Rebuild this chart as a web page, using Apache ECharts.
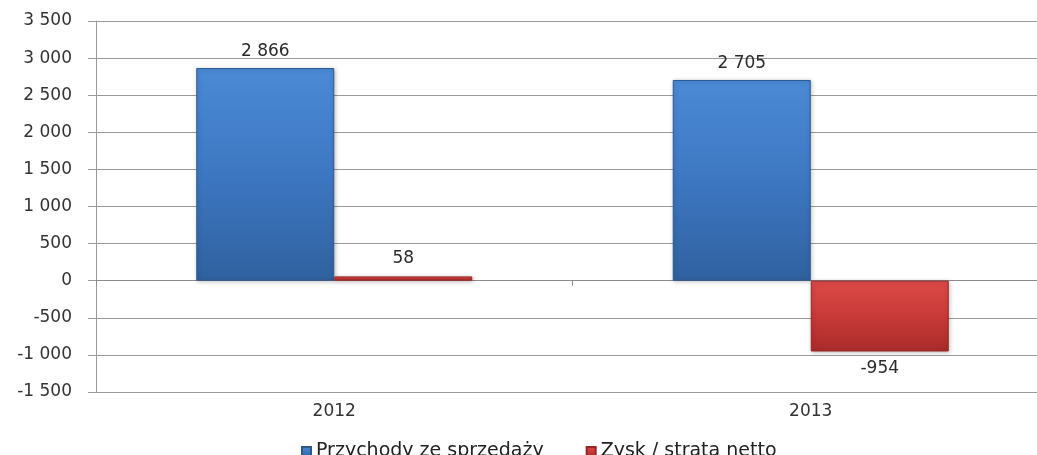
<!DOCTYPE html>
<html>
<head>
<meta charset="utf-8">
<script src="https://cdn.jsdelivr.net/npm/echarts@6/dist/echarts.min.js"></script>
<style>
  html, body { margin: 0; padding: 0; background: #fff; }
  #chart { width: 1037px; height: 455px; }
</style>
</head>
<body>
<div id="chart"></div>
<script>
// Years on the category axis
const years = ['2012', '2013'];
// Series values (mln zł)
const revenue = [2866, 2705];
const netResult = [58, -954];
// Series names shown in the legend
const seriesNames = ['Przychody ze sprzedaży', 'Zysk / strata netto'];
// Value axis range
const yMin = -1500, yMax = 3500, yStep = 500;

const FONT = 'DejaVu Sans';

// Thousands separated by a space, e.g. 2 866, -1 000
function fmt(v) {
  const s = Math.abs(Math.round(v)).toString().replace(/\B(?=(\d{3})+(?!\d))/g, ' ');
  return (v < 0 ? '-' : '') + s;
}

function grad(top, mid, bottom) {
  return new echarts.graphic.LinearGradient(0, 0, 0, 1, [
    { offset: 0, color: top },
    { offset: 0.5, color: mid },
    { offset: 1, color: bottom }
  ]);
}

const chart = echarts.init(document.getElementById('chart'), null, { renderer: 'canvas' });

chart.setOption({
  animation: false,
  backgroundColor: '#ffffff',
  grid: {
    left: 96,
    right: -12,
    top: 21,
    bottom: 63,
    containLabel: false,
    outerBoundsMode: 'none'
  },
  legend: {
    data: seriesNames,
    left: 296,
    top: 437,
    icon: 'rect',
    itemWidth: 9,
    itemHeight: 9,
    itemGap: 42,
    textStyle: { fontFamily: FONT, fontSize: 19, color: '#222' }
  },
  xAxis: [
    {
      type: 'category',
      data: years,
      position: 'bottom',
      axisLine: { onZero: false, lineStyle: { color: '#9a9a9a' } },
      axisTick: { show: false },
      axisLabel: { margin: 11, fontFamily: FONT, fontSize: 17, color: '#333' },
      splitLine: { show: false }
    },
    {
      type: 'category',
      data: years,
      position: 'top',
      axisLine: { onZero: true, lineStyle: { color: '#8c8c8c' } },
      axisTick: { show: true, inside: true, length: 5, lineStyle: { color: '#8c8c8c' } },
      axisLabel: { show: false },
      splitLine: { show: false }
    }
  ],
  yAxis: {
    type: 'value',
    min: yMin,
    max: yMax,
    interval: yStep,
    axisLine: { show: true, lineStyle: { color: '#9a9a9a' } },
    axisTick: { show: true, length: 8, lineStyle: { color: '#9a9a9a' } },
    axisLabel: { margin: 24, fontFamily: FONT, fontSize: 17, color: '#333', formatter: fmt },
    splitLine: { show: true, lineStyle: { color: '#9a9a9a', width: 1 } }
  },
  series: [
    {
      name: seriesNames[0],
      type: 'bar',
      xAxisIndex: 0,
      data: revenue,
      barWidth: 138,
      barGap: '0%',
      itemStyle: {
        color: grad('#4b8ad6', '#3d77c2', '#2f619f'),
        borderColor: '#2c5990',
        borderWidth: 1,
        shadowColor: 'rgba(0,0,0,0.25)',
        shadowBlur: 4,
        shadowOffsetX: 1,
        shadowOffsetY: 1
      },
      label: {
        show: true,
        position: 'top',
        distance: 8,
        fontFamily: FONT,
        fontSize: 17,
        color: '#2a2a2a',
        formatter: p => fmt(p.value)
      }
    },
    {
      name: seriesNames[1],
      type: 'bar',
      xAxisIndex: 0,
      // Negative bars take their label below the bar
      data: netResult.map(v => ({
        value: v,
        label: { position: v < 0 ? 'bottom' : 'top' }
      })),
      barWidth: 138,
      barGap: '0%',
      itemStyle: {
        color: grad('#dc4a47', '#c83a38', '#a92b2a'),
        borderColor: '#9a2624',
        borderWidth: 1,
        shadowColor: 'rgba(0,0,0,0.25)',
        shadowBlur: 4,
        shadowOffsetX: 1,
        shadowOffsetY: 1
      },
      label: {
        show: true,
        distance: 9,
        fontFamily: FONT,
        fontSize: 17,
        color: '#2a2a2a',
        formatter: p => fmt(p.value)
      }
    }
  ]
});
</script>
</body>
</html>
